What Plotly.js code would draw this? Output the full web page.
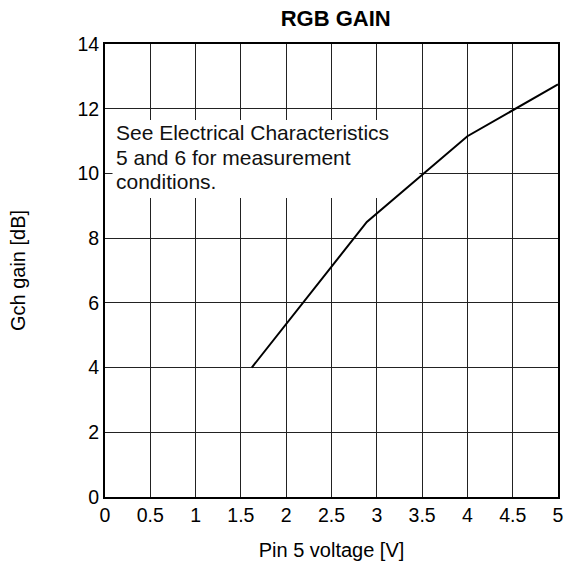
<!DOCTYPE html>
<html>
<head>
<meta charset="utf-8">
<script src="https://cdn.plot.ly/plotly-3.0.1.min.js"></script>
<style>
  html, body { margin: 0; padding: 0; background: #fff; }
  #chart { width: 566px; height: 570px; }
</style>
</head>
<body>
<div id="chart"></div>
<script>
// Data
const pinVoltage = [1.62, 2.89, 4.0, 5.0];
const gchGain    = [4.0, 8.5, 11.15, 12.75];

const chartTitle = 'RGB GAIN';
const xTitle = 'Pin 5 voltage [V]';
const yTitle = 'Gch gain [dB]';
const noteLines = ['See Electrical Characteristics', '5 and 6 for measurement', 'conditions.'];
const noteLineY = [11.25, 10.49, 9.74];

const FONT = 'Liberation Sans, Arial, Helvetica, sans-serif';

const trace = {
  x: pinVoltage,
  y: gchGain,
  type: 'scatter',
  mode: 'lines',
  line: { color: '#000', width: 2 },
  hoverinfo: 'skip',
  showlegend: false
};

const annotations = noteLines.map((t, i) => ({
  text: t,
  xref: 'x', yref: 'y',
  x: 0.1, y: noteLineY[i],
  xanchor: 'left', yanchor: 'middle',
  showarrow: false,
  align: 'left',
  font: { family: FONT, size: 21, color: '#111' }
}));

const layout = {
  width: 566,
  height: 570,
  paper_bgcolor: '#fff',
  plot_bgcolor: '#fff',
  margin: { l: 105, r: 8, t: 44, b: 73 },
  title: {
    text: '<b>' + chartTitle + '</b>',
    font: { family: FONT, size: 22, color: '#000' },
    x: 0.593, xanchor: 'center',
    y: 0.968, yanchor: 'middle'
  },
  xaxis: {
    range: [0, 5],
    dtick: 0.5,
    tick0: 0,
    showgrid: true,
    gridcolor: '#222',
    gridwidth: 1,
    zeroline: false,
    showline: true,
    linecolor: '#000',
    linewidth: 2,
    mirror: true,
    ticks: '',
    tickfont: { family: FONT, size: 19.5, color: '#000' },
    title: { text: xTitle, font: { family: FONT, size: 20, color: '#000' }, standoff: 18 }
  },
  yaxis: {
    range: [0, 14],
    dtick: 2,
    tick0: 0,
    showgrid: true,
    gridcolor: '#222',
    gridwidth: 1,
    zeroline: false,
    showline: true,
    linecolor: '#000',
    linewidth: 2,
    mirror: true,
    ticks: '',
    tickfont: { family: FONT, size: 19.5, color: '#000' },
    title: { text: yTitle, font: { family: FONT, size: 20, color: '#000' }, standoff: 46 }
  },
  shapes: [{
    type: 'rect',
    xref: 'x', yref: 'y',
    x0: 0.083, x1: 3.47,
    y0: 9.24, y1: 11.65,
    fillcolor: '#fff',
    line: { width: 0 },
    layer: 'between'
  }],
  annotations: annotations
};

Plotly.newPlot('chart', [trace], layout, { displayModeBar: false, staticPlot: true });
</script>
</body>
</html>
